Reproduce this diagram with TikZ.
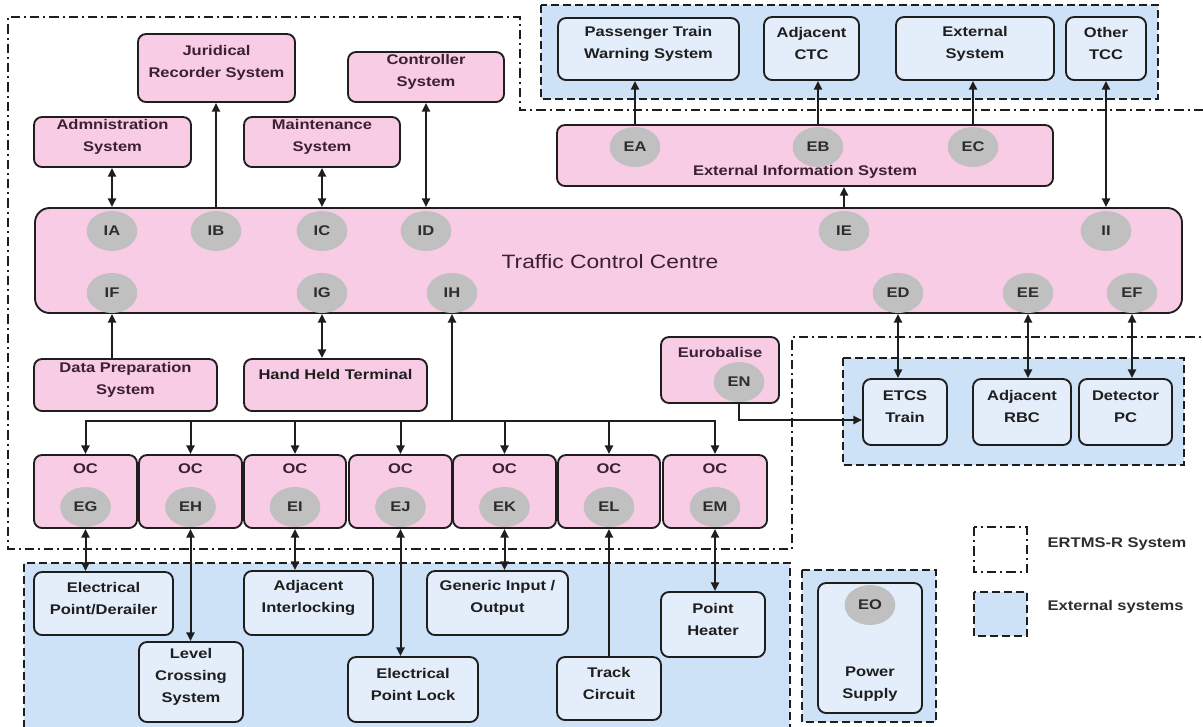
\documentclass[tikz,border=0pt]{standalone}
\usepackage{fontspec}
\newfontfamily\dfont{Liberation Sans}[FakeStretch=1.18]
\usetikzlibrary{arrows.meta,shapes.geometric,fit}

\definecolor{pinkfill}{RGB}{249,204,229}
\definecolor{extfill}{RGB}{205,225,247}
\definecolor{innerfill}{RGB}{228,238,250}
\definecolor{portgray}{RGB}{192,192,192}
\definecolor{ink}{RGB}{30,30,30}
\definecolor{pinkink}{RGB}{58,32,50}
\definecolor{porttext}{RGB}{45,45,45}

\tikzset{
  every node/.style={font=\dfont\bfseries\fontsize{10.5}{16.5}\selectfont, text=ink, align=center},
  sysbox/.style={draw=ink, line width=1.4pt, rounded corners=6pt, inner sep=0pt},
  pinkbox/.style={sysbox, fill=pinkfill, text=pinkink},
  extbox/.style={sysbox, fill=innerfill},
  port/.style={ellipse, fill=portgray, text=porttext, minimum width=38pt, minimum height=30pt, inner sep=0pt},
  regionline/.style={draw=ink, line width=1.1pt, dash pattern=on 6pt off 3pt},
  ertms/.style={draw=ink, line width=1.1pt, dash pattern=on 7pt off 3pt on 1.5pt off 3pt},
  link/.style={draw=ink, line width=1.5pt},
  >={Triangle[length=6.5pt,width=6pt]},
  one/.style={link, ->},
  two/.style={link, <->},
}

\begin{document}
\begin{tikzpicture}[x=0.75pt,y=-0.75pt]
\useasboundingbox (0,0) rectangle (1203,726);
\clip (0,0) rectangle (1203,726);

% ---------- external system regions ----------
\fill[extfill] (541,5) rectangle (1158,99);
\draw[regionline] (541,5) rectangle (1158,99);
\fill[extfill] (843,358) rectangle (1184,465);
\draw[regionline] (843,358) rectangle (1184,465);
\fill[extfill] (24,563) rectangle (790,740);
\draw[regionline] (24,740) -- (24,563) -- (790,563) -- (790,740);
\fill[extfill] (802,570) rectangle (936,722);
\draw[regionline] (802,570) rectangle (936,722);

% ---------- ERTMS-R system boundary ----------
\draw[ertms] (1203,110) -- (520,110) -- (520,17) -- (8,17) -- (8,549) -- (792,549) -- (792,337) -- (1203,337);

% ---------- top external systems ----------
\node[extbox, fit={(558,18) (739,80)}] (ptw) {Passenger Train\\Warning System};
\node[extbox, fit={(764,17) (859,80)}] (actc) {Adjacent\\CTC};
\node[extbox, fit={(896,17) (1054,80)}] (exts) {External\\System};
\node[extbox, fit={(1066,17) (1146,80)}] (otcc) {Other\\TCC};

% ---------- external information system ----------
\node[pinkbox, fit={(557,125) (1053,186)}] (eis) {};
\node[text=pinkink] (eislabel) at (805,172) {External Information System};
\node[port] (ea) at (635,147) {EA};
\node[port] (eb) at (818,147) {EB};
\node[port] (ec) at (973,147) {EC};

% ---------- subsystems above the TCC ----------
\node[pinkbox, fit={(34,117) (191,167)}] (adm) {Admnistration\\System};
\node[pinkbox, fit={(138,34) (295,102)}] (jrs) {Juridical\\Recorder System};
\node[pinkbox, fit={(244,117) (400,167)}] (mnt) {Maintenance\\System};
\node[pinkbox, fit={(348,52) (504,102)}] (ctl) {Controller\\System};

% ---------- traffic control centre ----------
\node[pinkbox, rounded corners=11pt, fit={(35,208) (1182,313)}] (tcc) {};
\node[text=pinkink, font=\dfont\fontsize{14.5}{17}\selectfont] (tcclabel) at (610,262) {Traffic Control Centre};
\node[port] (ia) at (112,231) {IA};
\node[port] (ib) at (216,231) {IB};
\node[port] (ic) at (322,231) {IC};
\node[port] (id) at (426,231) {ID};
\node[port] (ie) at (844,231) {IE};
\node[port] (ii) at (1106,231) {II};
\node[port] (if) at (112,293) {IF};
\node[port] (ig) at (322,293) {IG};
\node[port] (ih) at (452,293) {IH};
\node[port] (ed) at (898,293) {ED};
\node[port] (ee) at (1028,293) {EE};
\node[port] (ef) at (1132,293) {EF};

% ---------- subsystems below the TCC ----------
\node[pinkbox, fit={(34,359) (217,411)}] (dps) {Data Preparation\\System};
\node[pinkbox, fit={(244,359) (427,411)}] (hht) {};
\node (hhtlabel) at (335.5,374) {Hand Held Terminal};

% ---------- object controllers ----------
\node[pinkbox, fit={(34,455) (137,528)}] (oc1) {};
\node[pinkbox, fit={(139,455) (242,528)}] (oc2) {};
\node[pinkbox, fit={(244,455) (346,528)}] (oc3) {};
\node[pinkbox, fit={(349,455) (452,528)}] (oc4) {};
\node[pinkbox, fit={(453,455) (556,528)}] (oc5) {};
\node[pinkbox, fit={(558,455) (660,528)}] (oc6) {};
\node[pinkbox, fit={(663,455) (767,528)}] (oc7) {};
\foreach \i in {1,...,7} {
  \node[text=pinkink] (oclabel\i) at ([yshift=-11.25pt]oc\i.north) {OC};
}
\node[port] (eg) at (85.5,507) {EG};
\node[port] (eh) at (190.5,507) {EH};
\node[port] (ei) at (295,507) {EI};
\node[port] (ej) at (400.5,507) {EJ};
\node[port] (ek) at (504.5,507) {EK};
\node[port] (el) at (609,507) {EL};
\node[port] (em) at (715,507) {EM};

% ---------- eurobalise ----------
\node[pinkbox, fit={(661,337) (779,403)}] (eurob) {};
\node[text=pinkink] (euroblabel) at (720,352) {Eurobalise};
\node[port] (en) at (739,382) {EN};

% ---------- trackside external systems ----------
\node[extbox, fit={(34,572) (173,635)}] (epd) {Electrical\\Point/Derailer};
\node[extbox, fit={(139,642) (243,722)}] (lcs) {Level\\Crossing\\System};
\node[extbox, fit={(244,571) (373,635)}] (ai) {Adjacent\\Interlocking};
\node[extbox, fit={(348,657) (478,722)}] (epl) {Electrical\\Point Lock};
\node[extbox, fit={(427,571) (568,635)}] (gio) {Generic Input /\\Output};
\node[extbox, fit={(557,657) (661,720)}] (tc) {Track\\Circuit};
\node[extbox, fit={(661,592) (765,657)}] (ph) {Point\\Heater};

% ---------- train-side external systems ----------
\node[extbox, fit={(863,379) (947,445)}] (etcs) {ETCS\\Train};
\node[extbox, fit={(973,379) (1071,445)}] (arbc) {Adjacent\\RBC};
\node[extbox, fit={(1079,379) (1172,445)}] (dpc) {Detector\\PC};

% ---------- power supply ----------
\node[extbox, fit={(818,583) (922,713)}] (pwr) {};
\node[port] (eo) at (870,605) {EO};
\node (pwrlabel) at (870,684) {Power\\Supply};

% ---------- connectors above the TCC ----------
\draw[one] (ea |- eis.north) -- (ea |- ptw.south);
\draw[one] (eb |- eis.north) -- (eb |- actc.south);
\draw[one] (ec |- eis.north) -- (ec |- exts.south);
\draw[two] (ia |- adm.south) -- (ia |- tcc.north);
\draw[one] (ib |- tcc.north) -- (ib |- jrs.south);
\draw[two] (ic |- mnt.south) -- (ic |- tcc.north);
\draw[two] (id |- ctl.south) -- (id |- tcc.north);
\draw[one] (ie |- tcc.north) -- (ie |- eis.south);
\draw[two] (ii |- otcc.south) -- (ii |- tcc.north);

% ---------- connectors below the TCC ----------
\draw[one] (if |- dps.north) -- (if |- tcc.south);
\draw[two] (ig |- hht.north) -- (ig |- tcc.south);
\coordinate (busL) at (85.5,421);
\coordinate (busR) at (715,421);
\draw[link, line cap=rect] (busL) -- (busR);
\draw[one] (ih |- busL) -- (ih |- tcc.south);
\foreach \p/\b in {eg/oc1,eh/oc2,ei/oc3,ej/oc4,ek/oc5,el/oc6,em/oc7} {
  \draw[one] (\p |- busL) -- (\p |- \b.north);
}
\draw[two] (ed |- tcc.south) -- (ed |- etcs.north);
\draw[two] (ee |- tcc.south) -- (ee |- arbc.north);
\draw[two] (ef |- tcc.south) -- (ef |- dpc.north);

% ---------- connectors to trackside equipment ----------
\draw[two] (eg |- oc1.south) -- (eg |- epd.north);
\draw[two] (eh |- oc2.south) -- (eh |- lcs.north);
\draw[two] (ei |- oc3.south) -- (ei |- ai.north);
\draw[two] (ej |- oc4.south) -- (ej |- epl.north);
\draw[two] (ek |- oc5.south) -- (ek |- gio.north);
\draw[one] (el |- tc.north) -- (el |- oc6.south);
\draw[two] (em |- oc7.south) -- (em |- ph.north);

% ---------- eurobalise to train ----------
\coordinate (enturn) at (739,420);
\draw[one] (en |- eurob.south) -- (enturn) -- (etcs.west |- enturn);

% ---------- legend ----------
\draw[ertms] (974,527) rectangle (1027,572);
\node[anchor=west, text=porttext] (legsys) at (1043,544) {ERTMS-R System};
\fill[extfill] (974,592) rectangle (1027,636);
\draw[regionline] (974,592) rectangle (1027,636);
\node[anchor=west, text=porttext] (legext) at (1043,607) {External systems};
\end{tikzpicture}
\end{document}
